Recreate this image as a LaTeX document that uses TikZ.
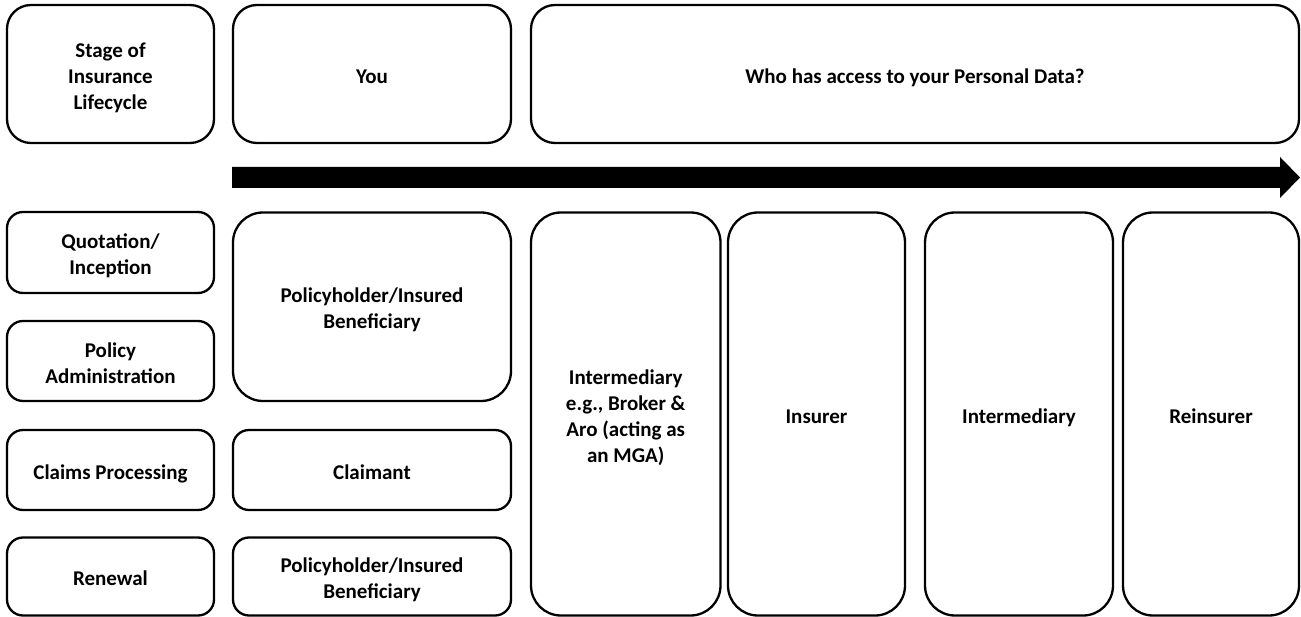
\documentclass[tikz,border=0pt]{standalone}
\usepackage{fontspec}
\setmainfont{Carlito}
\newcommand\boxlbl[1]{\raisebox{0pt}[\dimexpr\height+8pt\relax][\depth]{\begin{tabular}{@{}c@{}}#1\end{tabular}}}
\begin{document}
\begin{tikzpicture}[x=1pt,y=-1pt,
  box/.style={draw=black, line width=2.3pt, fill=white, inner sep=0pt, outer sep=0pt,
    align=center, font=\fontsize{21}{26}\selectfont\bfseries},
  smallr/.style={rounded corners=16pt},
  medr/.style={rounded corners=24pt},
  bigr/.style={rounded corners=30pt}]
\useasboundingbox (0,0) rectangle (1301,617);
% header row
\node[box, medr, minimum width=207pt, minimum height=138pt] (stage) at (110.5,74) {\boxlbl{Stage of\\Insurance\\Lifecycle}};
\node[box, medr, minimum width=278pt, minimum height=138pt] (you) at (372,74) {\boxlbl{You}};
\node[box, medr, minimum width=768pt, minimum height=138pt] (who) at (915,74) {\boxlbl{Who has access to your Personal Data?}};
% arrow
\coordinate (arrS) at (232,177.5);
\coordinate (arrE) at (1300,177.5);
\fill[black] (arrS) ++(0,-10.5) -- (1280,167) -- (1280,157) -- (arrE) -- (1280,198) -- (1280,188) -- (232,188) -- cycle;
% lifecycle column
\node[box, smallr, minimum width=207pt, minimum height=81pt] (quot) at (110.5,252.5) {\boxlbl{Quotation/\\Inception}};
\node[box, smallr, minimum width=207pt, minimum height=80pt] (admin) at (110.5,361) {\boxlbl{Policy\\Administration}};
\node[box, smallr, minimum width=207pt, minimum height=80pt] (claims) at (110.5,470) {\boxlbl{Claims Processing}};
\node[box, smallr, minimum width=207pt, minimum height=78pt] (renew) at (110.5,576.5) {\boxlbl{Renewal}};
% you column
\node[box, bigr, minimum width=278pt, minimum height=188.5pt] (ph1) at (372,306.75) {\boxlbl{Policyholder/Insured\\Beneficiary}};
\node[box, smallr, minimum width=278pt, minimum height=80pt] (claimant) at (372,470) {\boxlbl{Claimant}};
\node[box, smallr, minimum width=278pt, minimum height=78pt] (ph2) at (372,576.5) {\boxlbl{Policyholder/Insured\\Beneficiary}};
% access columns
\node[box, bigr, minimum width=189.5pt, minimum height=403pt] (inter1) at (625.75,414) {\boxlbl{Intermediary\\e.g., Broker \&\\Aro (acting as\\an MGA)}};
\node[box, bigr, minimum width=177pt, minimum height=403pt] (insurer) at (816.5,414) {\boxlbl{Insurer}};
\node[box, bigr, minimum width=188pt, minimum height=403pt] (inter2) at (1019,414) {\boxlbl{Intermediary}};
\node[box, bigr, minimum width=176pt, minimum height=403pt] (reins) at (1211,414) {\boxlbl{Reinsurer}};
\end{tikzpicture}
\end{document}
